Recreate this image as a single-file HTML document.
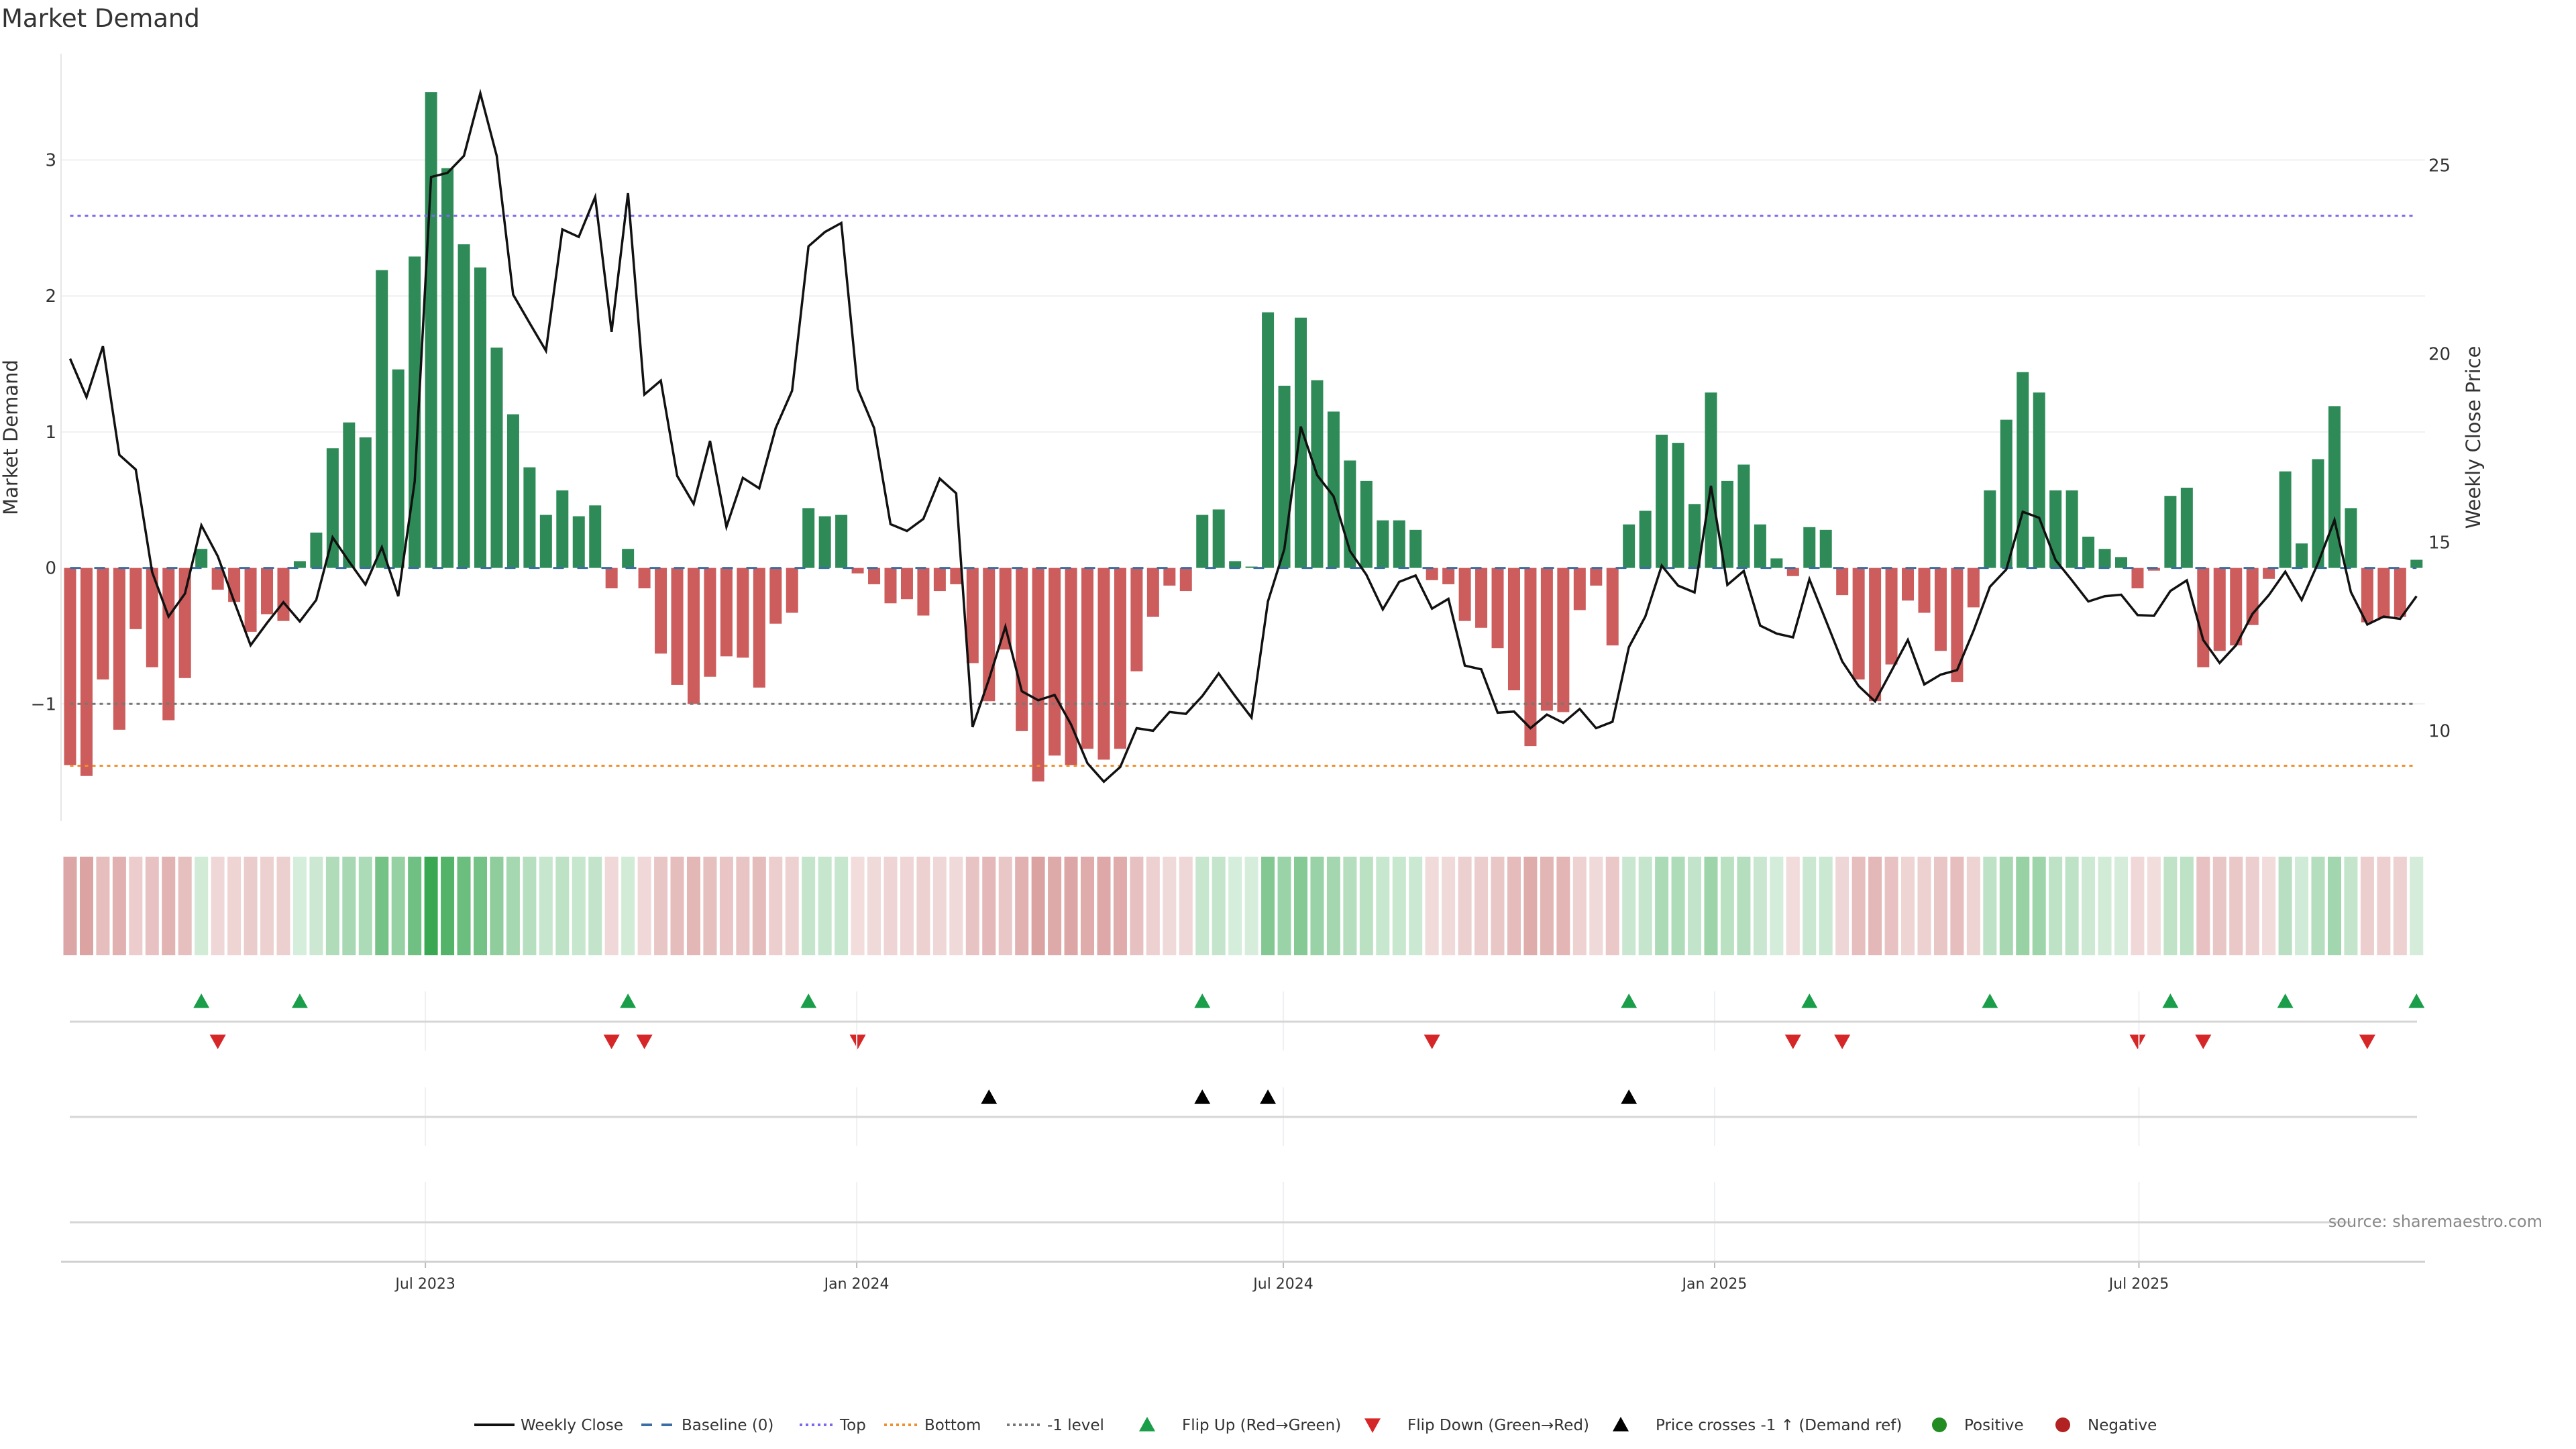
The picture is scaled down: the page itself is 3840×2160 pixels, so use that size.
<!DOCTYPE html>
<html><head><meta charset="utf-8"><title>Market Demand</title>
<style>
html,body{margin:0;padding:0;background:#fff;}
body{width:3840px;height:2160px;overflow:hidden;font-family:"DejaVu Sans","Liberation Sans",sans-serif;}
svg{display:block}
</style></head>
<body>
<svg id="chart" width="3840" height="2160" viewBox="0 0 3840 2160" xmlns="http://www.w3.org/2000/svg" font-family="DejaVu Sans, Liberation Sans, sans-serif">
  <text x="2" y="40" font-size="37" fill="#333">Market Demand</text>
  <g id="main"></g>
  <g id="heat"></g>
  <g id="flips"></g>
  <g id="cross"></g>
  <g id="xaxis"></g>
  <rect x="3505" y="1805" width="290" height="32" fill="#fff"/>
  <text x="3790" y="1829" font-size="24" fill="#888" text-anchor="end">source: sharemaestro.com</text>
  <g id="legend"></g>
</svg>
<script>
const demand = [-1.45,-1.53,-0.82,-1.19,-0.45,-0.73,-1.12,-0.81,0.14,-0.16,-0.25,-0.47,-0.34,-0.39,0.05,0.26,0.88,1.07,0.96,2.19,1.46,2.29,3.50,2.94,2.38,2.21,1.62,1.13,0.74,0.39,0.57,0.38,0.46,-0.15,0.14,-0.15,-0.63,-0.86,-1.00,-0.80,-0.65,-0.66,-0.88,-0.41,-0.33,0.44,0.38,0.39,-0.04,-0.12,-0.26,-0.23,-0.35,-0.17,-0.12,-0.70,-0.98,-0.60,-1.20,-1.57,-1.38,-1.45,-1.33,-1.41,-1.33,-0.76,-0.36,-0.13,-0.17,0.39,0.43,0.05,0.01,1.88,1.34,1.84,1.38,1.15,0.79,0.64,0.35,0.35,0.28,-0.09,-0.12,-0.39,-0.44,-0.59,-0.90,-1.31,-1.05,-1.06,-0.31,-0.13,-0.57,0.32,0.42,0.98,0.92,0.47,1.29,0.64,0.76,0.32,0.07,-0.06,0.30,0.28,-0.20,-0.82,-0.98,-0.71,-0.24,-0.33,-0.61,-0.84,-0.29,0.57,1.09,1.44,1.29,0.57,0.57,0.23,0.14,0.08,-0.15,-0.02,0.53,0.59,-0.73,-0.61,-0.57,-0.42,-0.08,0.71,0.18,0.80,1.19,0.44,-0.40,-0.37,-0.36,0.06];
const price = [19.87,18.85,20.20,17.32,16.93,14.21,13.03,13.64,15.45,14.63,13.43,12.27,12.86,13.41,12.90,13.47,15.13,14.49,13.88,14.87,13.57,16.61,24.69,24.80,25.25,26.91,25.25,21.57,20.82,20.08,23.30,23.10,24.16,20.58,24.26,18.92,19.29,16.76,16.02,17.69,15.41,16.71,16.43,18.03,19.02,22.85,23.23,23.47,19.07,18.03,15.48,15.30,15.62,16.69,16.30,10.10,11.37,12.76,11.05,10.81,10.95,10.17,9.14,8.65,9.04,10.07,10.00,10.50,10.45,10.92,11.52,10.92,10.35,13.43,14.82,18.07,16.78,16.22,14.77,14.14,13.22,13.95,14.12,13.24,13.50,11.73,11.63,10.48,10.51,10.07,10.43,10.21,10.58,10.07,10.24,12.22,13.03,14.38,13.85,13.67,16.50,13.87,14.24,12.79,12.58,12.48,14.02,12.93,11.84,11.19,10.78,11.59,12.41,11.23,11.49,11.61,12.65,13.82,14.28,15.81,15.65,14.53,13.99,13.43,13.57,13.61,13.07,13.05,13.71,13.99,12.41,11.80,12.27,13.10,13.60,14.22,13.47,14.45,15.59,13.68,12.82,13.03,12.97,13.57];
const demandTicks = [-1,0,1,2,3];
const demandTickLabels = ["\u22121","0","1","2","3"];
const priceTicks = [10,15,20,25];
const levels = [2.59,-1.455,-1];
const levelNames = ["top-level-line","bottom-level-line","minus-one-level-line"];
const dateTicks = ["2023-07-01","2024-01-01","2024-07-01","2025-01-01","2025-07-01"];
const dateTickLabels = ["Jul 2023","Jan 2024","Jul 2024","Jan 2025","Jul 2025"];
const firstWeek = "2023-01-31";

const NS="http://www.w3.org/2000/svg";
function mk(tag,attrs,parent){const e=document.createElementNS(NS,tag);for(const k in attrs)e.setAttribute(k,attrs[k]);parent.appendChild(e);return e;}
const X0=104.5, DX=24.46;
const xOf=i=>X0+DX*i;
const yD=v=>846.6-202.7*v;
const yP=p=>808.4-56.2*(p-15);
const dayMs=86400000;
const xDate=s=>xOf((new Date(s)-new Date(firstWeek))/dayMs/7);
const main=document.getElementById('main');
const XL=91, XR=3615;

demandTicks.forEach((t,k)=>{
  if(t!==0){const g=mk('line',{x1:XL,x2:XR,y1:yD(t),y2:yD(t),stroke:'#eef0f2','stroke-width':2},main);
  
  }
  const l=mk('text',{x:84,y:yD(t)+9,'font-size':26,fill:'#333','text-anchor':'end'},main);
  l.textContent=demandTickLabels[k];
  
  
});
priceTicks.forEach(t=>{
  const l=mk('text',{x:3620,y:yP(t)+9,'font-size':26,fill:'#333'},main);
  l.textContent=String(t);
  
  
});
const ax=mk('line',{x1:XL,x2:XL,y1:80,y2:1224,stroke:'#e6e6e6','stroke-width':2},main);


const yt=mk('text',{x:0,y:0,'font-size':29,fill:'#333','text-anchor':'middle',transform:'translate(26,652) rotate(-90)'},main);
yt.textContent='Market Demand';


const yt2=mk('text',{x:0,y:0,'font-size':29,fill:'#333','text-anchor':'middle',transform:'translate(3697,652) rotate(-90)'},main);
yt2.textContent='Weekly Close Price';



demand.forEach((v,i)=>{
  const y=Math.min(yD(v),yD(0)), h=Math.abs(yD(v)-yD(0));
  const b=mk('rect',{x:xOf(i)-9,y:y,width:18,height:Math.max(h,0.5),fill:v>=0?'#2e8b57':'#cd5c5c'},main);
  
  
});
const levelColors=['#7b68ee','#f28e2b','#777'];
levels.forEach((lv,k)=>{
  const l=mk('line',{x1:xOf(0),x2:xOf(demand.length-1),y1:yD(lv),y2:yD(lv),stroke:levelColors[k],'stroke-width':3,'stroke-dasharray':'5 6'},main);
  
  
});
const bl=mk('line',{x1:xOf(0),x2:xOf(demand.length-1),y1:yD(0),y2:yD(0),stroke:'#3a6ea5','stroke-width':3,'stroke-dasharray':'16 20'},main);


const pl=mk('polyline',{points:price.map((p,i)=>xOf(i)+','+yP(p)).join(' '),fill:'none',stroke:'#111','stroke-width':3.5,'stroke-linejoin':'miter'},main);



const heat=document.getElementById('heat');
function mix(base,t){return 'rgb('+base.map(c=>Math.round(255-(255-c)*t)).join(',')+')';}
demand.forEach((v,i)=>{
  const t=0.2+0.8*Math.min(Math.abs(v),3.5)/3.5;
  const c=mk('rect',{x:xOf(i)-10,y:1277,width:20,height:147,fill:v>=0?mix([58,168,83],t):mix([191,88,88],t)},heat);
  
  
});

const flips=document.getElementById('flips'), cross=document.getElementById('cross'), xa=document.getElementById('xaxis');
dateTicks.forEach((d,k)=>{
  const x=xDate(d)+2;
  [[1478,1566],[1621,1708],[1762,1880]].forEach(r=>{
    const g=mk('line',{x1:x,x2:x,y1:r[0],y2:r[1],stroke:'#eef0f2','stroke-width':2},xa);
    
    
  });
  const tk=mk('line',{x1:x,x2:x,y1:1880,y2:1890,stroke:'#bbb','stroke-width':2},xa);
  
  
  const lb=mk('text',{x:x,y:1921,'font-size':22,fill:'#333','text-anchor':'middle'},xa);
  lb.textContent=dateTickLabels[k];
  
  
});
[1523,1665,1822].forEach(y=>{
  const l=mk('line',{x1:104,x2:3603,y1:y,y2:y,stroke:'#d6d6d6','stroke-width':3},xa);
  
  
});
const xl=mk('line',{x1:XL,x2:XR,y1:1881,y2:1881,stroke:'#d0d0d0','stroke-width':3},xa);



function tri(x,y,up,fill,parent){
  const s=12;
  const pts=up?[[x,y-s],[x-s,y+s*0.8],[x+s,y+s*0.8]]:[[x,y+s],[x-s,y-s*0.8],[x+s,y-s*0.8]];
  return mk('polygon',{points:pts.map(p=>p.join(',')).join(' '),fill:fill},parent);
}
for(let i=1;i<demand.length;i++){
  if(demand[i]>=0&&demand[i-1]<0){const t=tri(xOf(i),1493,true,'#1a9e4a',flips);
    
    }
  if(demand[i]<0&&demand[i-1]>=0){const t=tri(xOf(i),1552,false,'#d62728',flips);
    
    }
}
const thr=15-(yD(-1)-yP(15))/56.2;
for(let i=1;i<price.length;i++){
  if(price[i]>thr&&price[i-1]<=thr){const t=tri(xOf(i),1636,true,'#000',cross);
    
    }
}

const lg=document.getElementById('legend');
const LY=2124;
function ltext(x,s){const t=mk('text',{x:x,y:LY+8,'font-size':23,fill:'#333'},lg);t.textContent=s;return t;}
let e;
e=mk('line',{x1:707,x2:767,y1:LY,y2:LY,stroke:'#111','stroke-width':4},lg);


ltext(776,'Weekly Close');
e=mk('line',{x1:956,x2:1008,y1:LY,y2:LY,stroke:'#3a6ea5','stroke-width':4,'stroke-dasharray':'16 14'},lg);


ltext(1016,'Baseline (0)');
e=mk('line',{x1:1192,x2:1244,y1:LY,y2:LY,stroke:'#7b68ee','stroke-width':4,'stroke-dasharray':'4 5'},lg);


ltext(1252,'Top');
e=mk('line',{x1:1318,x2:1370,y1:LY,y2:LY,stroke:'#f28e2b','stroke-width':4,'stroke-dasharray':'4 5'},lg);


ltext(1378,'Bottom');
e=mk('line',{x1:1501,x2:1553,y1:LY,y2:LY,stroke:'#777','stroke-width':4,'stroke-dasharray':'4 5'},lg);


ltext(1561,'-1 level');
e=tri(1710,LY,true,'#1a9e4a',lg);


ltext(1762,'Flip Up (Red\u2192Green)');
e=tri(2046,LY,false,'#d62728',lg);


ltext(2098,'Flip Down (Green\u2192Red)');
e=tri(2416,LY,true,'#000',lg);


ltext(2468,'Price crosses -1 \u2191 (Demand ref)');
e=mk('circle',{cx:2891,cy:LY,r:11,fill:'#228b22'},lg);


ltext(2928,'Positive');
e=mk('circle',{cx:3075,cy:LY,r:11,fill:'#b22222'},lg);


ltext(3112,'Negative');
</script>
</body></html>
